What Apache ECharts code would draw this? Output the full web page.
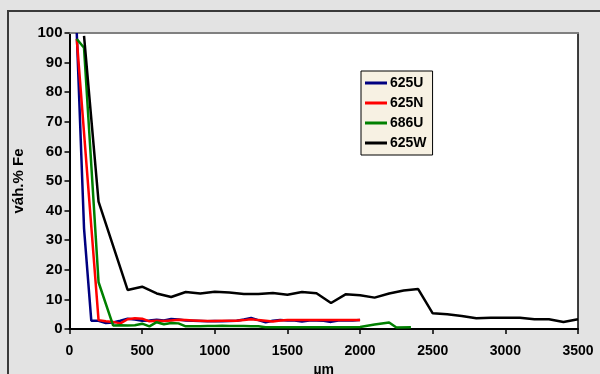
<!DOCTYPE html>
<html>
<head>
<meta charset="utf-8">
<script src="https://cdn.jsdelivr.net/npm/echarts@6/dist/echarts.min.js"></script>
<style>
html,body{margin:0;padding:0;background:#e3e3e3;}
#c{width:600px;height:374px;}
</style>
</head>
<body>
<div id="c"></div>
<script>
var seriesNames = ['625U', '625N', '686U', '625W'];
var seriesColors = ['#000080', '#ff0000', '#008000', '#000000'];
var xTicks = [0, 500, 1000, 1500, 2000, 2500, 3000, 3500];
var yTicks = [0, 10, 20, 30, 40, 50, 60, 70, 80, 90, 100];

var s625U = [[50,100],[100,34],[150,2.8],[200,2.8],[250,2.0],[300,2.2],[350,2.8],[400,3.5],[450,3.2],[500,2.8],[550,2.9],[600,3.1],[650,2.9],[700,3.4],[750,3.2],[800,2.9],[850,2.8],[900,2.7],[950,2.6],[1000,2.7],[1050,2.6],[1100,2.7],[1150,2.8],[1200,3.2],[1250,3.7],[1300,3.0],[1350,2.3],[1400,2.8],[1450,3.0],[1500,2.9],[1550,2.9],[1600,2.5],[1650,2.9],[1700,2.9],[1750,2.8],[1800,2.4],[1850,2.9],[1900,2.9],[1950,2.9],[2000,3.0]];
var s625N = [[50,98],[200,3.0],[250,2.6],[300,2.4],[350,1.9],[400,3.3],[450,3.6],[500,3.5],[550,2.6],[600,2.8],[650,2.7],[700,2.9],[750,3.1],[800,3.0],[850,2.9],[900,2.8],[950,2.7],[1000,2.7],[1050,2.8],[1100,2.8],[1150,2.8],[1200,3.0],[1250,3.3],[1300,3.0],[1350,2.8],[1400,2.5],[1450,2.9],[1500,3.0],[1600,3.0],[1700,3.0],[1800,3.0],[1900,3.0],[2000,3.0]];
var s686U = [[50,98],[100,95],[200,15.8],[300,1.2],[350,1.3],[400,1.2],[450,1.3],[500,1.8],[550,0.9],[600,2.3],[650,1.6],[700,2.0],[750,1.9],[800,0.9],[850,0.9],[900,0.9],[950,1.0],[1000,1.0],[1050,1.1],[1100,1.0],[1150,1.0],[1200,1.0],[1250,0.9],[1300,0.9],[1350,0.6],[1400,0.6],[1500,0.6],[1600,0.6],[1700,0.6],[1800,0.6],[1900,0.6],[2000,0.7],[2100,1.5],[2200,2.2],[2250,0.5],[2350,0.6]];
var s625W = [[100,99],[200,43],[400,13.2],[500,14.3],[600,12.0],[700,10.8],[800,12.5],[900,12.0],[1000,12.6],[1100,12.3],[1200,11.8],[1300,11.8],[1400,12.2],[1500,11.6],[1600,12.5],[1700,12.1],[1800,8.8],[1900,11.7],[2000,11.4],[2100,10.6],[2200,12.0],[2300,13.0],[2400,13.5],[2500,5.3],[2600,5.0],[2700,4.4],[2800,3.6],[2900,3.8],[3000,3.8],[3100,3.8],[3200,3.3],[3300,3.3],[3400,2.4],[3500,3.3]];
var allData = [s625U, s625N, s686U, s625W];

var FONT = 'Arial, "Liberation Sans", sans-serif';
var chart = echarts.init(document.getElementById('c'), null, {renderer: 'canvas'});

var series = allData.map(function (d, i) {
  return {
    name: seriesNames[i],
    type: 'line',
    data: d,
    symbol: 'none',
    xAxisIndex: 0,
    yAxisIndex: 0,
    lineStyle: {color: seriesColors[i], width: 2.5},
    itemStyle: {color: seriesColors[i]},
    z: 3 + i
  };
});

chart.setOption({
  backgroundColor: '#e3e3e3',
  animation: false,
  graphic: [{
    type: 'rect',
    shape: {x: 8, y: 11, width: 640, height: 440},
    style: {fill: 'transparent', stroke: '#3a3a3a', lineWidth: 2},
    silent: true,
    z: -1
  }],
  grid: {
    left: 69.5, right: 22, top: 33, bottom: 45,
    outerBoundsMode: 'none',
    containLabel: false,
    show: true, backgroundColor: '#ffffff', borderWidth: 0
  },
  legend: {
    data: seriesNames,
    orient: 'vertical',
    left: 361, top: 71,
    padding: [5, 6, 5, 4],
    itemGap: 6,
    itemWidth: 22, itemHeight: 3,
    icon: 'rect',
    backgroundColor: '#f7f1e3',
    borderColor: '#000',
    borderWidth: 1,
    textStyle: {fontFamily: FONT, fontWeight: 'bold', fontSize: 14, color: '#000', lineHeight: 14, padding: [0, 0, 0, -2]}
  },
  xAxis: [{
    type: 'value', min: 0, max: 3500, interval: 500,
    name: 'µm', nameLocation: 'middle', nameGap: 33,
    nameTextStyle: {fontFamily: FONT, fontWeight: 'bold', fontSize: 14, color: '#000'},
    axisLine: {show: true, onZero: false, lineStyle: {color: '#000', width: 2}},
    axisTick: {show: true, length: 5, lineStyle: {color: '#000', width: 1.5}},
    axisLabel: {fontFamily: FONT, fontWeight: 'bold', fontSize: 14, color: '#000', margin: 15,
      formatter: function (v) { return xTicks.indexOf(v) >= 0 ? String(v) : ''; }},
    splitLine: {show: false}
  }, {
    type: 'value', min: 0, max: 3500, position: 'top',
    axisLine: {show: true, onZero: false, lineStyle: {color: '#808080', width: 2}},
    axisTick: {show: false}, axisLabel: {show: false}, splitLine: {show: false}
  }],
  yAxis: [{
    type: 'value', min: 0, max: 100, interval: 10,
    name: 'váh.% Fe', nameLocation: 'middle', nameGap: 43,
    nameTextStyle: {fontFamily: FONT, fontWeight: 'bold', fontSize: 15, color: '#000'},
    axisLine: {show: true, onZero: false, lineStyle: {color: '#000', width: 2}},
    axisTick: {show: true, length: 5, lineStyle: {color: '#000', width: 1.5}},
    axisLabel: {fontFamily: FONT, fontWeight: 'bold', fontSize: 15, color: '#000', margin: 7,
      formatter: function (v) { return yTicks.indexOf(v) >= 0 ? String(v) : ''; }},
    splitLine: {show: false}
  }, {
    type: 'value', min: 0, max: 100, position: 'right',
    axisLine: {show: true, onZero: false, lineStyle: {color: '#000', width: 1.5}},
    axisTick: {show: false}, axisLabel: {show: false}, splitLine: {show: false}
  }],
  series: series
});
</script>
</body>
</html>
